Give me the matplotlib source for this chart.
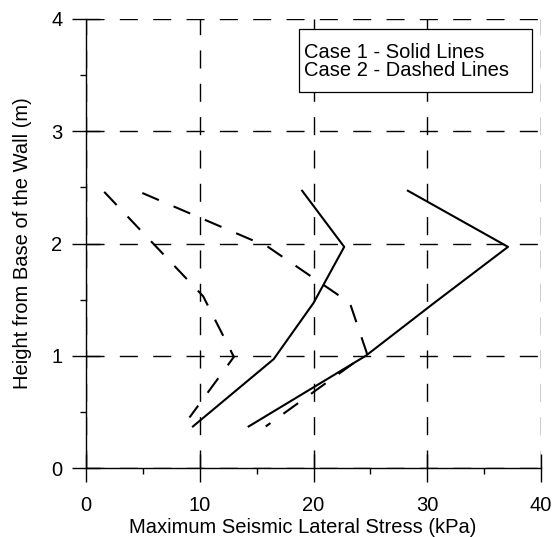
import matplotlib
matplotlib.use("Agg")
import matplotlib.pyplot as plt
from matplotlib.patches import Rectangle
from matplotlib.ticker import MultipleLocator

plt.rcParams["font.family"] = ["Liberation Sans", "DejaVu Sans"]
plt.rcParams["lines.scale_dashes"] = False

# ---- data (stress in kPa, height in m) ----
case1_a_x = [9.4, 16.5, 20.0, 22.7, 19.0]
case1_a_y = [0.37, 0.97, 1.47, 1.97, 2.47]
case1_b_x = [14.3, 24.6, 30.6, 37.1, 28.3]
case1_b_y = [0.37, 1.00, 1.47, 1.97, 2.47]

# dashed curves listed top-down so the dash pattern starts at the top end
case2_a_x = [1.6, 10.3, 13.0, 9.1]
case2_a_y = [2.46, 1.53, 0.99, 0.45]
case2_b_x = [4.95, 16.0, 23.2, 24.7, 15.8]
case2_b_y = [2.45, 1.97, 1.47, 1.02, 0.37]

legend_lines = ["Case 1 - Solid Lines", "Case 2 - Dashed Lines"]

FS = 14.5
DASH = (0, (13, 11.5))
GRID_DASH = (0, (13, 11))

fig = plt.figure(figsize=(5.57, 5.37), dpi=100)
ax = fig.add_axes([86 / 557, 69 / 537, 455 / 557, 449 / 537])

for xs, ys in [(case1_a_x, case1_a_y), (case1_b_x, case1_b_y)]:
    ax.plot(xs, ys, "-", color="black", lw=1.5, zorder=3)
for xs, ys in [(case2_a_x, case2_a_y), (case2_b_x, case2_b_y)]:
    ax.plot(xs, ys, color="black", lw=1.5, ls=DASH, zorder=3)

ax.set_xlim(0, 40)
ax.set_ylim(0, 4)
ax.xaxis.set_major_locator(MultipleLocator(10))
ax.xaxis.set_minor_locator(MultipleLocator(5))
ax.yaxis.set_major_locator(MultipleLocator(1))
ax.yaxis.set_minor_locator(MultipleLocator(0.5))

ax.grid(True, which="major", color="black", lw=1.0, ls=GRID_DASH)
ax.set_axisbelow(True)
for s in ("top", "right"):
    ax.spines[s].set_visible(False)
for s in ("left", "bottom"):
    ax.spines[s].set_linewidth(1.0)

ax.tick_params(which="major", direction="inout", length=20, width=1.0,
               labelsize=FS)
ax.tick_params(axis="x", which="major", pad=10)
ax.tick_params(axis="y", which="major", pad=7)
ax.tick_params(which="minor", direction="out", length=4.5, width=1.0)

ax.set_xlabel("Maximum Seismic Lateral Stress (kPa)", fontsize=FS)
ax.set_ylabel("Height from Base of the Wall (m)", fontsize=FS)
ax.xaxis.set_label_coords(0.477, -0.111)
ax.yaxis.set_label_coords(-0.119, 0.5)

# boxed note in the upper right
ax.add_patch(Rectangle((18.7, 3.35), 20.5, 0.56, fill=True, facecolor="white",
                       edgecolor="black", lw=0.9, zorder=4, clip_on=False))
ax.text(19.2, 3.65, legend_lines[0], fontsize=FS, va="baseline", zorder=5)
ax.text(19.2, 3.49, legend_lines[1], fontsize=FS, va="baseline", zorder=5)

fig.savefig("out.png", dpi=100)
